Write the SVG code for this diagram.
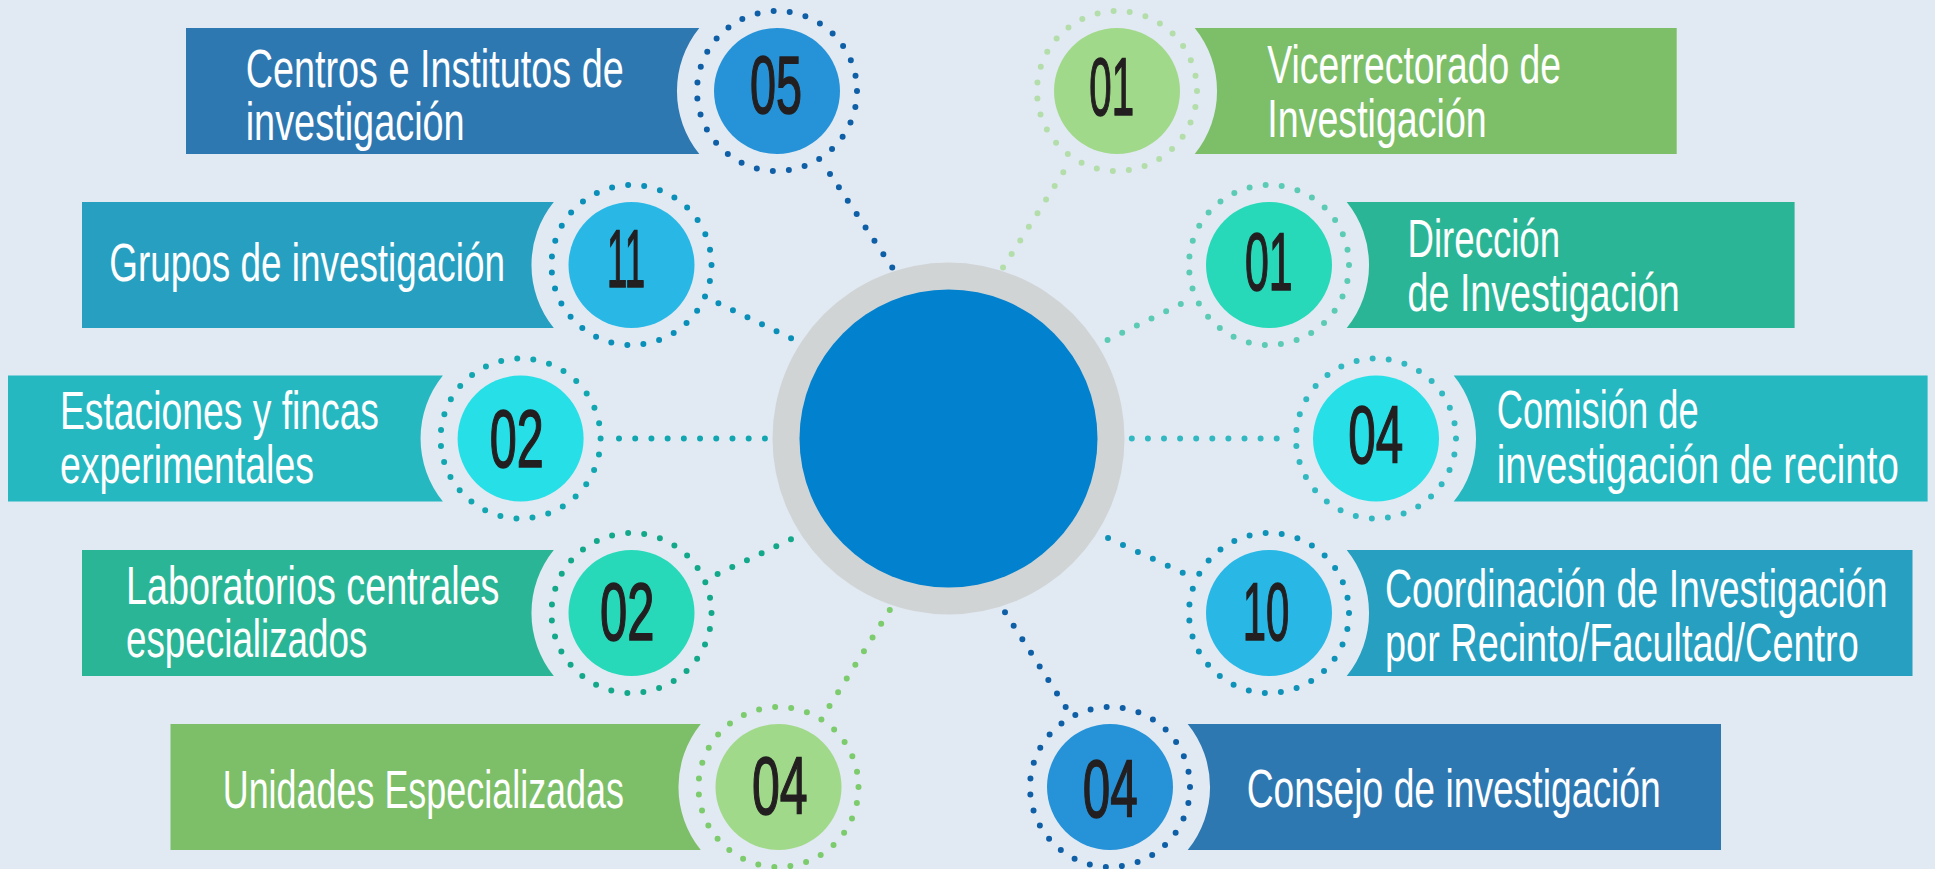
<svg xmlns="http://www.w3.org/2000/svg" width="1935" height="869" viewBox="0 0 1935 869">
<style>
.lbl{fill:#ffffff;font-family:"Liberation Sans Narrow","Liberation Sans",Arial,sans-serif;font-size:54px;}
.num{fill:#231f20;stroke:#231f20;stroke-width:1.6;font-family:"Liberation Sans Narrow","Liberation Sans",Arial,sans-serif;font-size:82px;font-weight:normal;}
.ring{fill:none;stroke-width:6;stroke-linecap:round;stroke-dasharray:0 16.215;}
.con{fill:none;stroke-width:6;stroke-linecap:round;}
.b-blue{fill:#2e78b2}.b-teal{fill:#279fc0}.b-cyan{fill:#25b8c0}.b-green{fill:#2ab696}.b-lime{fill:#7cbf68}
.c-blue{fill:#2693d8}.c-teal{fill:#29b8e6}.c-cyan{fill:#27dfe6}.c-green{fill:#27d9b9}.c-lime{fill:#a1d98a}
</style>
<rect x="0" y="0" width="1935" height="869" fill="#e1e9f2"/>

<g id="node-centros">
<path class="b-blue" d="M186,28 H699.3 A100,100 0 0 0 699.3,154 H186 Z"/>
<circle class="ring" cx="777" cy="91" r="80" stroke="#0f5fa6"/>
<circle class="c-blue" cx="777" cy="91" r="63"/>
<text class="num" x="750" y="113" textLength="52" lengthAdjust="spacingAndGlyphs">05</text>
<text class="lbl" x="245.7" y="87.3" textLength="378" lengthAdjust="spacingAndGlyphs">Centros e Institutos de</text>
<text class="lbl" x="245.7" y="140" textLength="219" lengthAdjust="spacingAndGlyphs">investigación</text>
</g>

<g id="node-grupos">
<path class="b-teal" d="M82,202 H553.8 A100,100 0 0 0 553.8,328 H82 Z"/>
<circle class="ring" cx="631.5" cy="265" r="80" stroke="#0a8fb8"/>
<circle class="c-teal" cx="631.5" cy="265" r="63"/>
<text class="num" x="607" y="286.7" textLength="38" lengthAdjust="spacingAndGlyphs">11</text>
<text class="lbl" x="109.3" y="280.7" textLength="395.7" lengthAdjust="spacingAndGlyphs">Grupos de investigación</text>
</g>

<g id="node-estaciones">
<path class="b-cyan" d="M8,375.5 H442.9 A100,100 0 0 0 442.9,501.5 H8 Z"/>
<circle class="ring" cx="520.6" cy="438.5" r="80" stroke="#12a6b0"/>
<circle class="c-cyan" cx="520.6" cy="438.5" r="63"/>
<text class="num" x="489.7" y="466.7" textLength="54" lengthAdjust="spacingAndGlyphs">02</text>
<text class="lbl" x="60" y="429" textLength="319" lengthAdjust="spacingAndGlyphs">Estaciones y fincas</text>
<text class="lbl" x="60" y="482.7" textLength="254" lengthAdjust="spacingAndGlyphs">experimentales</text>
</g>

<g id="node-laboratorios">
<path class="b-green" d="M82,550 H553.8 A100,100 0 0 0 553.8,676 H82 Z"/>
<circle class="ring" cx="631.5" cy="613" r="80" stroke="#14a88b"/>
<circle class="c-green" cx="631.5" cy="613" r="63"/>
<text class="num" x="600" y="640" textLength="54.4" lengthAdjust="spacingAndGlyphs">02</text>
<text class="lbl" x="126" y="604" textLength="373.4" lengthAdjust="spacingAndGlyphs">Laboratorios centrales</text>
<text class="lbl" x="126" y="657" textLength="241.4" lengthAdjust="spacingAndGlyphs">especializados</text>
</g>

<g id="node-unidades">
<path class="b-lime" d="M170.5,724 H700.8 A100,100 0 0 0 700.8,850 H170.5 Z"/>
<circle class="ring" cx="778.5" cy="787" r="80" stroke="#7ccb6c"/>
<circle class="c-lime" cx="778.5" cy="787" r="63"/>
<text class="num" x="752" y="814" textLength="55.7" lengthAdjust="spacingAndGlyphs">04</text>
<text class="lbl" x="222.7" y="808" textLength="401.3" lengthAdjust="spacingAndGlyphs">Unidades Especializadas</text>
</g>

<g id="node-vicerrectorado">
<path class="b-lime" d="M1676.7,28 H1194.7 A100,100 0 0 1 1194.7,154 H1676.7 Z"/>
<circle class="ring" cx="1117" cy="91" r="80" stroke="#b3deaa"/>
<circle class="c-lime" cx="1117" cy="91" r="63"/>
<text class="num" x="1089.3" y="115" textLength="44.7" lengthAdjust="spacingAndGlyphs">01</text>
<text class="lbl" x="1267.3" y="82.7" textLength="293.7" lengthAdjust="spacingAndGlyphs">Vicerrectorado de</text>
<text class="lbl" x="1267.3" y="137.3" textLength="219.4" lengthAdjust="spacingAndGlyphs">Investigación</text>
</g>

<g id="node-direccion">
<path class="b-green" d="M1794.6,202 H1346.7 A100,100 0 0 1 1346.7,328 H1794.6 Z"/>
<circle class="ring" cx="1269" cy="265" r="80" stroke="#5ccbb5"/>
<circle class="c-green" cx="1269" cy="265" r="63"/>
<text class="num" x="1245" y="290" textLength="47.7" lengthAdjust="spacingAndGlyphs">01</text>
<text class="lbl" x="1407.6" y="256.7" textLength="152.4" lengthAdjust="spacingAndGlyphs">Dirección</text>
<text class="lbl" x="1407.6" y="310.7" textLength="272" lengthAdjust="spacingAndGlyphs">de Investigación</text>
</g>

<g id="node-comision">
<path class="b-cyan" d="M1927.6,375.5 H1453.7 A100,100 0 0 1 1453.7,501.5 H1927.6 Z"/>
<circle class="ring" cx="1376" cy="438.5" r="80" stroke="#32b8c0"/>
<circle class="c-cyan" cx="1376" cy="438.5" r="63"/>
<text class="num" x="1348.3" y="463.3" textLength="55" lengthAdjust="spacingAndGlyphs">04</text>
<text class="lbl" x="1496.8" y="428.3" textLength="201.8" lengthAdjust="spacingAndGlyphs">Comisión de</text>
<text class="lbl" x="1496.8" y="482.7" textLength="402" lengthAdjust="spacingAndGlyphs">investigación de recinto</text>
</g>

<g id="node-coordinacion">
<path class="b-teal" d="M1912.5,550 H1346.7 A100,100 0 0 1 1346.7,676 H1912.5 Z"/>
<circle class="ring" cx="1269" cy="613" r="80" stroke="#0e92b8"/>
<circle class="c-teal" cx="1269" cy="613" r="63"/>
<text class="num" x="1242.7" y="640" textLength="46.6" lengthAdjust="spacingAndGlyphs">10</text>
<text class="lbl" x="1385" y="606.7" textLength="502.6" lengthAdjust="spacingAndGlyphs">Coordinación de Investigación</text>
<text class="lbl" x="1385" y="660.7" textLength="473.8" lengthAdjust="spacingAndGlyphs">por Recinto/Facultad/Centro</text>
</g>

<g id="node-consejo">
<path class="b-blue" d="M1721,724 H1187.7 A100,100 0 0 1 1187.7,850 H1721 Z"/>
<circle class="ring" cx="1110" cy="787" r="80" stroke="#0f5fa6"/>
<circle class="c-blue" cx="1110" cy="787" r="63"/>
<text class="num" x="1082.7" y="816.7" textLength="55" lengthAdjust="spacingAndGlyphs">04</text>
<text class="lbl" x="1246.7" y="806.7" textLength="414" lengthAdjust="spacingAndGlyphs">Consejo de investigación</text>
</g>

<g id="connectors">
<path class="con" stroke="#0f5fa6" stroke-dasharray="0 16.06" d="M830,174 L892.3,267.7"/>
<path class="con" stroke="#0a8fb8" stroke-dasharray="0 16.13" d="M718.4,303.3 L791.1,338.3"/>
<path class="con" stroke="#12a6b0" stroke-dasharray="0 16.21" d="M619,438.5 L765,438.5"/>
<path class="con" stroke="#14a88b" stroke-dasharray="0 16.23" d="M717.6,574 L791,539.3"/>
<path class="con" stroke="#7ccb6c" stroke-dasharray="0 16.19" d="M829.5,706 L889.8,610"/>
<path class="con" stroke="#b3deaa" stroke-dasharray="0 16.11" d="M1063.3,172.3 L1003,267.7"/>
<path class="con" stroke="#5ccbb5" stroke-dasharray="0 16.32" d="M1180.8,304 L1107.5,340"/>
<path class="con" stroke="#32b8c0" stroke-dasharray="0 16.1" d="M1276.7,438.5 L1131.7,438.5"/>
<path class="con" stroke="#0e92b8" stroke-dasharray="0 16.46" d="M1182.7,572.7 L1108,538"/>
<path class="con" stroke="#0f5fa6" stroke-dasharray="0 16.06" d="M1005,612.3 L1065.7,707"/>
</g>

<g id="node-center">
<circle cx="948.5" cy="438.5" r="176" fill="#d0d4d5"/>
<circle cx="948.5" cy="438.5" r="149" fill="#0281ce"/>
</g>
</svg>
